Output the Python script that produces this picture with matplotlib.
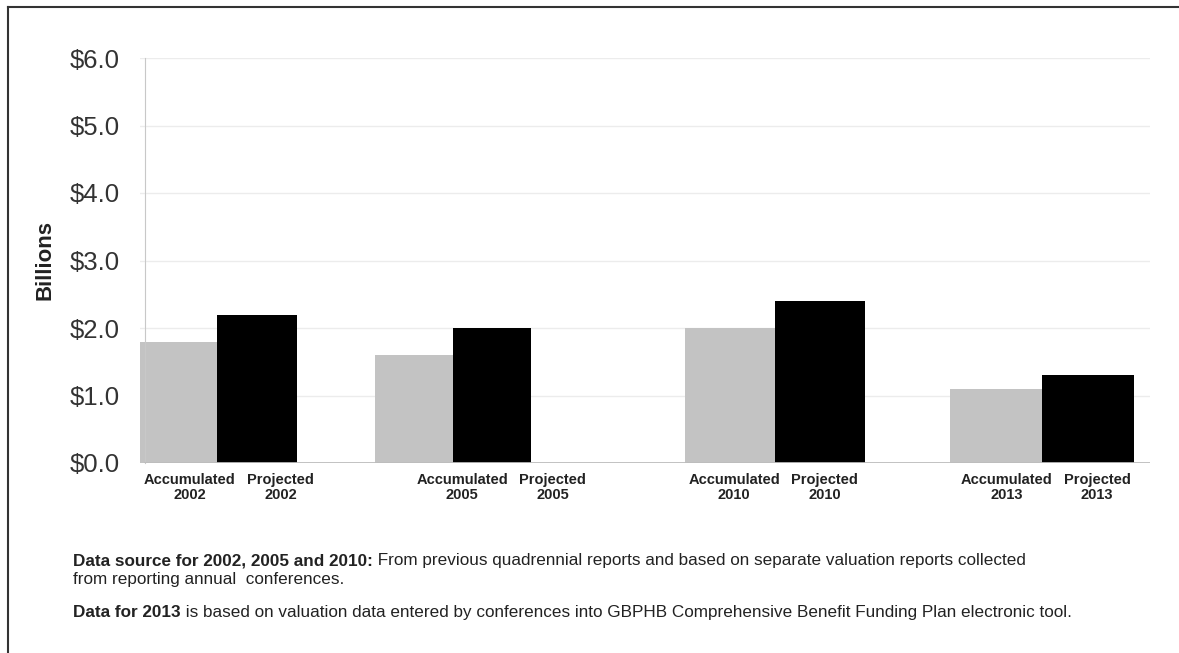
import matplotlib.pyplot as plt
from matplotlib.lines import Line2D

# Accumulated vs projected liability (billions of dollars)
years = ['2002', '2005', '2010', '2013']
accumulated = [1.8, 1.6, 2.0, 1.1]
projected = [2.2, 2.0, 2.4, 1.3]
y_ticks = [0, 1, 2, 3, 4, 5, 6]

# group layout on a pixel-like x scale
group_x = [217, 453, 775, 1042]
bar_w = [80, 78, 90, 92]
# category labels sit on a regular slot grid (one blank slot between years)
label_x0, label_step = 190, 90.7

W, H = 1179, 653
plt.rcParams['font.family'] = ['Liberation Sans', 'DejaVu Sans']
fig = plt.figure(figsize=(W / 100, H / 100), dpi=100)

def fx(px):
    return px / W

def fy(py):
    return 1 - py / H

ax = fig.add_axes([fx(140), fy(463), fx(1150) - fx(140), fy(58) - fy(463)])
ax.set_xlim(140, 1150)
ax.set_ylim(0, 6)

for gx, w, a, p in zip(group_x, bar_w, accumulated, projected):
    ax.bar(gx - w / 2, a, width=w, color='#c3c3c3', zorder=2)
    ax.bar(gx + w / 2, p, width=w, color='black', zorder=2)

ax.set_yticks(y_ticks)
ax.set_yticklabels(['$%.1f' % v for v in y_ticks])
ax.tick_params(axis='y', length=0, pad=18, labelsize=18.5, labelcolor='#333333')
ax.set_xticks([])
ax.grid(axis='y', color='#ececec', linewidth=1, zorder=0)
for s in ['top', 'right', 'bottom']:
    ax.spines[s].set_visible(False)
ax.spines['left'].set_color('#c8c8c8')
ax.spines['left'].set_position(('data', 145))
ax.axhline(0, xmin=0.005, color='#bdbdbd', linewidth=2, zorder=3)

# category labels under the bars
for i, yr in enumerate(years):
    xa = label_x0 + label_step * 3 * i
    for x, name in [(xa, 'Accumulated'), (xa + label_step, 'Projected')]:
        fig.text(fx(x), fy(473), name + '\n' + yr, ha='center', va='top',
                 fontsize=10.5, fontweight='bold', color='#222222', linespacing=1.1)

fig.text(fx(45), fy(260), 'Billions', rotation=90, ha='center', va='center',
         fontsize=16, fontweight='bold', color='#222222')

# footnotes: bold lead-in followed by regular text
notes = [
    (fy(565), 'Data source for 2002, 2005 and 2010:',
     ' From previous quadrennial reports and based on separate valuation reports collected'),
    (fy(584), '', 'from reporting annual  conferences.'),
    (fy(617), 'Data for 2013',
     ' is based on valuation data entered by conferences into GBPHB Comprehensive Benefit Funding Plan electronic tool.'),
]
fig.canvas.draw()
renderer = fig.canvas.get_renderer()
for y, bold, rest in notes:
    x = fx(73)
    if bold:
        t = fig.text(x, y, bold, fontsize=12.3, fontweight='bold', va='baseline', color='#222222')
        bb = t.get_window_extent(renderer)
        x = bb.x1 / fig.bbox.width
    fig.text(x, y, rest, fontsize=12.3, va='baseline', color='#222222')

# frame lines along top and left edge
fig.add_artist(Line2D([fx(8), 1], [fy(7), fy(7)], color='#333333', linewidth=1.5))
fig.add_artist(Line2D([fx(8), fx(8)], [0, fy(7)], color='#333333', linewidth=1.5))

fig.savefig('out.png', dpi=100)
